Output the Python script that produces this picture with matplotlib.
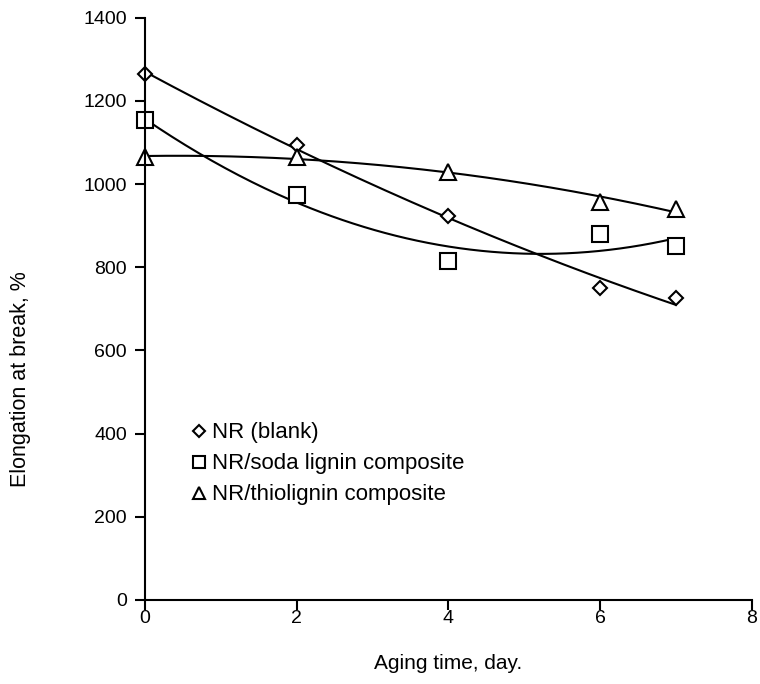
import numpy as np
import matplotlib
matplotlib.use('Agg')
import matplotlib.pyplot as plt

plt.rcParams['font.family'] = ['Liberation Sans', 'DejaVu Sans']

days = [0, 2, 4, 6, 7]
nr_blank = [1265, 1093, 923, 750, 725]
nr_soda = [1153, 973, 815, 880, 850]
nr_thio = [1065, 1065, 1030, 958, 940]

labels = ['NR (blank)', 'NR/soda lignin composite', 'NR/thiolignin composite']
markers = ['D', 's', '^']
msizes = [7.5, 11, 11]

fig = plt.figure(figsize=(7.6, 6.84), dpi=100)
ax = fig.add_axes([0.191, 0.123, 0.798, 0.851])

xs = np.linspace(0, 7, 200)
for ys, lab, m, ms in zip([nr_blank, nr_soda, nr_thio], labels, markers, msizes):
    ax.plot(days, ys, linestyle='none', marker=m, markersize=ms, markerfacecolor='white',
            markeredgecolor='black', markeredgewidth=1.5, label=lab, clip_on=False)
    # excel style 2nd order trend line
    c = np.polyfit(days, ys, 2)
    ax.plot(xs, np.polyval(c, xs), color='black', lw=1.5, zorder=1)

ax.set_xlim(0, 8)
ax.set_ylim(0, 1400)
ax.set_xticks([0, 2, 4, 6, 8])
ax.set_yticks(range(0, 1401, 200))
for s in ['top', 'right']:
    ax.spines[s].set_visible(False)
for s in ['left', 'bottom']:
    ax.spines[s].set_linewidth(1.5)
ax.tick_params(direction='out', length=7, width=1.5, labelsize=14)
ax.tick_params(axis='y', pad=6)
ax.tick_params(axis='x', pad=0)
ax.set_xlabel('Aging time, day.', fontsize=15, labelpad=20)
ax.set_ylabel('Elongation at break, %', fontsize=15.5)
ax.yaxis.set_label_coords(-0.188, 0.38)

leg = ax.legend(loc='upper left', bbox_to_anchor=(0.055, 0.32), frameon=False,
                fontsize=16, handletextpad=0.1, handlelength=1.0, labelspacing=0.45,
                markerscale=0.8, borderaxespad=0)

fig.savefig('out.png', dpi=100)
